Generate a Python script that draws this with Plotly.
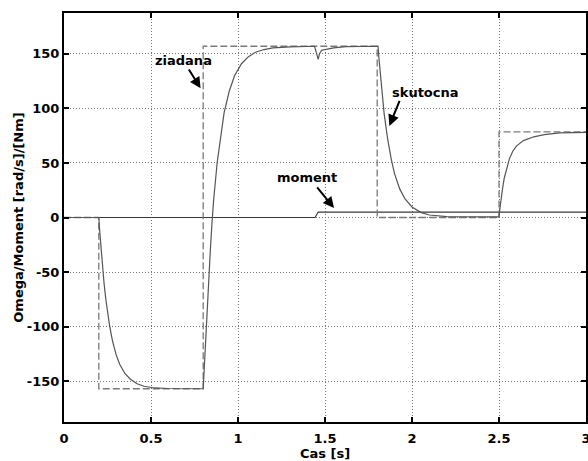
import plotly.graph_objects as go

# --- data ---
t_ref = [0.0, 0.2, 0.2, 0.8, 0.8, 1.8, 1.8, 2.5, 2.5, 3.0]
omega_ref = [0, 0, -157, -157, 157, 157, 0, 0, 78.5, 78.5]

t_act = [0.0, 0.2, 0.205, 0.21, 0.22, 0.23, 0.24, 0.25, 0.26, 0.27, 0.28, 0.30, 0.32, 0.35,
         0.38, 0.42, 0.46, 0.52, 0.60, 0.80,
         0.805, 0.81, 0.82, 0.83, 0.84, 0.85, 0.86, 0.88, 0.90, 0.92, 0.95, 0.98, 1.02,
         1.06, 1.10, 1.15, 1.20, 1.30, 1.44,
         1.452, 1.461, 1.468, 1.481, 1.50, 1.55, 1.62, 1.70, 1.805,
         1.81, 1.82, 1.83, 1.84, 1.86, 1.88, 1.90, 1.93, 1.96, 2.00, 2.05, 2.10, 2.20, 2.50,
         2.505, 2.51, 2.52, 2.53, 2.545, 2.56, 2.58, 2.60, 2.64, 2.70, 2.76, 2.85, 3.0]
omega_act = [0, 0, -12, -23, -43, -60, -74.5, -87, -97, -106, -114, -126, -134.5, -143,
             -148, -152.5, -154.7, -156.3, -156.8, -157,
             -140, -122, -92, -62, -33, -6, 16, 50, 75, 96, 116, 130, 141,
             147.5, 151.5, 154, 155.5, 156.5, 157,
             151, 145, 150, 153.3, 154, 155.5, 156.6, 157, 157,
             146, 127, 110, 95, 72, 54, 40, 26, 17, 9.7, 4.7, 2.3, 0.8, 0.5,
             8, 15, 26, 36, 46, 54, 61, 65.5, 70.5, 74, 76, 77.5, 78]

t_mom = [0.0, 1.443, 1.461, 3.0]
moment = [0, 0, 5, 5]

x_ticks = [0, 0.5, 1, 1.5, 2, 2.5, 3]
x_tick_labels = ["0", "0.5", "1", "1.5", "2", "2.5", "3"]
y_ticks = [-150, -100, -50, 0, 50, 100, 150]
y_tick_labels = ["-150", "-100", "-50", "0", "50", "100", "150"]

FONT = "DejaVu Sans"

fig = go.Figure()
fig.add_trace(go.Scatter(x=t_mom, y=moment, mode="lines",
                         line=dict(color="#3a3a3a", width=1.2), showlegend=False))
fig.add_trace(go.Scatter(x=t_ref, y=omega_ref, mode="lines",
                         line=dict(color="#7a7a7a", width=1.3, dash="7px,3px"), showlegend=False))
fig.add_trace(go.Scatter(x=t_act, y=omega_act, mode="lines",
                         line=dict(color="#555555", width=1.2), showlegend=False))

bold = dict(family=FONT, size=13, color="black", weight="bold")

texts = [("ziadana", 0.686, 144), ("skutocna", 2.077, 115), ("moment", 1.394, 37)]
for txt, x, y in texts:
    fig.add_annotation(x=x, y=y, text=txt, showarrow=False, font=bold,
                       xanchor="center", yanchor="middle")

arrows = [((0.712, 137), (0.785, 118.5)),
          ((1.932, 108.4), (1.870, 84)),
          ((1.448, 29), (1.552, 8.6))]
for (tx, ty), (hx, hy) in arrows:
    fig.add_annotation(x=hx, y=hy, ax=tx, ay=ty, axref="x", ayref="y",
                       xref="x", yref="y", text="", showarrow=True,
                       arrowhead=2, arrowsize=1.1, arrowwidth=2, arrowcolor="black")

axis_common = dict(showline=True, linecolor="black", linewidth=2, mirror="ticks",
                   ticks="inside", ticklen=5, tickwidth=1.5, tickcolor="black",
                   showgrid=True, gridcolor="#777777", gridwidth=1, griddash="1px,2px",
                   zeroline=False, tickfont=bold, automargin=False,
                   ticklabeloverflow="allow")

fig.update_xaxes(range=[0, 3], tickvals=x_ticks, ticktext=x_tick_labels,
                 ticklabelstandoff=3,
                 title=dict(text="Cas [s]", font=bold, standoff=0), **axis_common)
fig.update_yaxes(range=[-187.5, 187.5], tickvals=y_ticks, ticktext=y_tick_labels,
                 title=dict(text="Omega/Moment [rad/s]/[Nm]", font=bold, standoff=0),
                 **axis_common)

fig.update_layout(width=588, height=461, margin=dict(l=64, r=2, t=13, b=39),
                  plot_bgcolor="white", paper_bgcolor="white")

fig.write_html("out.html", config={"displayModeBar": False},
               post_script="document.body.style.margin='0';document.body.style.overflow='hidden';")
